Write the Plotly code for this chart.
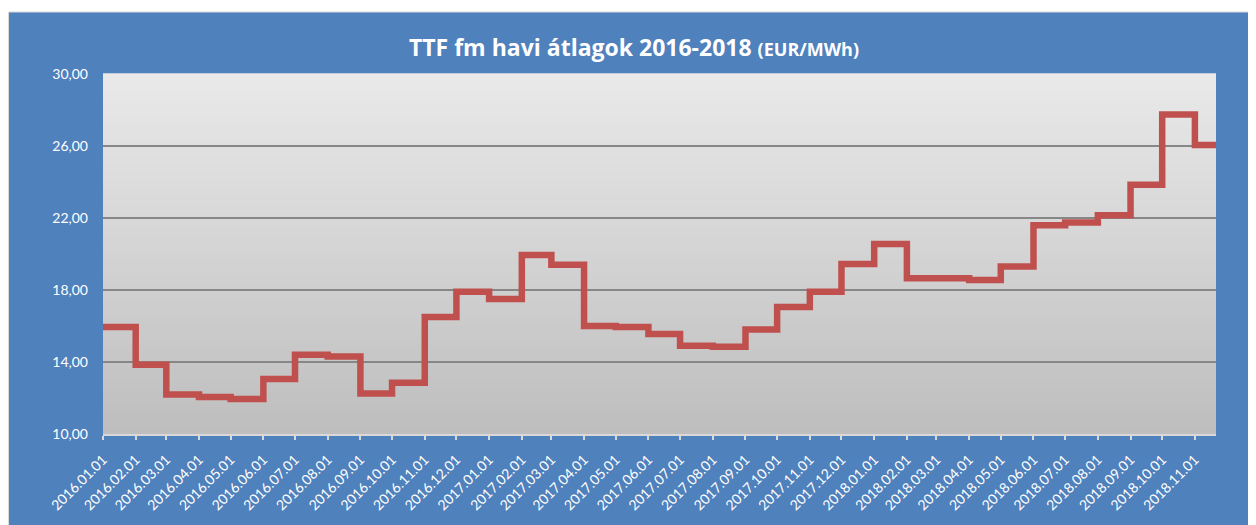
import plotly.graph_objects as go

# ---- data ----
months = [
    "2016-01-01", "2016-02-01", "2016-03-01", "2016-04-01", "2016-05-01", "2016-06-01",
    "2016-07-01", "2016-08-01", "2016-09-01", "2016-10-01", "2016-11-01", "2016-12-01",
    "2017-01-01", "2017-02-01", "2017-03-01", "2017-04-01", "2017-05-01", "2017-06-01",
    "2017-07-01", "2017-08-01", "2017-09-01", "2017-10-01", "2017-11-01", "2017-12-01",
    "2018-01-01", "2018-02-01", "2018-03-01", "2018-04-01", "2018-05-01", "2018-06-01",
    "2018-07-01", "2018-08-01", "2018-09-01", "2018-10-01", "2018-11-01",
]
ttf_values = [
    15.95, 13.85, 12.20, 12.05, 11.95, 13.05, 14.40, 14.30, 12.25, 12.85, 16.50, 17.90,
    17.50, 19.95, 19.40, 16.00, 15.95, 15.55, 14.90, 14.85, 15.80, 17.05, 17.90, 19.45,
    20.55, 18.65, 18.65, 18.55, 19.30, 21.60, 21.75, 22.15, 23.85, 27.75, 26.05,
]
last_date = "2018-11-21"
y_ticks = [10, 14, 18, 22, 26, 30]
y_tick_labels = ["10,00", "14,00", "18,00", "22,00", "26,00", "30,00"]

# ---- layout geometry (figure sits 8px in from the page corner) ----
W, H = 1248, 517
ML, MR, MT, MB = 95, 40, 66, 91
PW, PH = W - ML - MR, H - MT - MB

BLUE = "#4F81BD"
LINE = "#C0504D"
FONT = "Lato"
TITLE_FONT = "Open Sans"

def px_to_paper_x(px):
    return (px - ML) / PW

def px_to_paper_y(py):
    return (H - MB - py) / PH

fig = go.Figure()
fig.add_trace(go.Scatter(
    x=months + [last_date],
    y=ttf_values + [ttf_values[-1]],
    mode="lines",
    line=dict(color=LINE, width=6.5, shape="hv"),
    showlegend=False,
    hoverinfo="x+y",
))

shapes = []
# chart area (blue) with thin border
shapes.append(dict(
    type="rect", xref="paper", yref="paper", layer="below",
    x0=px_to_paper_x(0.5), x1=px_to_paper_x(W + 2),
    y0=px_to_paper_y(H + 2), y1=px_to_paper_y(4),
    fillcolor=BLUE, line=dict(color="#D9D9D9", width=1),
))
# gradient plot background
n = 60
top = (233, 233, 233)
bot = (190, 190, 190)
for i in range(n):
    t = i / (n - 1)
    c = tuple(round(bot[k] + (top[k] - bot[k]) * t) for k in range(3))
    shapes.append(dict(
        type="rect", xref="x domain", yref="y domain", layer="below",
        x0=0, x1=1, y0=i / n, y1=(i + 1) / n + 0.002,
        fillcolor="rgb(%d,%d,%d)" % c, line=dict(width=0),
    ))

fig.update_layout(
    width=W, height=H,
    margin=dict(l=ML, r=MR, t=MT, b=MB, autoexpand=False),
    paper_bgcolor="white",
    plot_bgcolor="rgba(0,0,0,0)",
    shapes=shapes,
    title=dict(
        text="<b>TTF fm havi átlagok 2016-2018 <span style='font-size:18px'>(EUR/MWh)</span></b>",
        x=626 / W, xref="container", xanchor="center",
        y=1 - 40 / H, yref="container", yanchor="middle",
        font=dict(family=TITLE_FONT, size=23, color="white"),
    ),
    font=dict(family=FONT, color="white"),
)

fig.update_xaxes(
    type="date",
    range=[months[0], last_date],
    tick0=months[0], dtick="M1", tickformat="%Y.%m.%d",
    tickangle=-45,
    tickfont=dict(family=FONT, size=14, color="white"),
    showgrid=False,
    showline=True, linecolor="#D9D9D9", linewidth=2,
    ticks="outside", ticklen=4, tickcolor="#D9D9D9", tickwidth=1.5,
    ticklabelstandoff=6,
    zeroline=False, automargin=False,
)
fig.update_yaxes(
    range=[10, 30],
    tickvals=y_ticks, ticktext=y_tick_labels,
    tickfont=dict(family=FONT, size=14, color="white"),
    showgrid=True, gridcolor="#878787", gridwidth=1.5,
    showline=False, zeroline=False,
    ticks="", ticklabelstandoff=14, automargin=False,
)

fig.write_html("out.html")
